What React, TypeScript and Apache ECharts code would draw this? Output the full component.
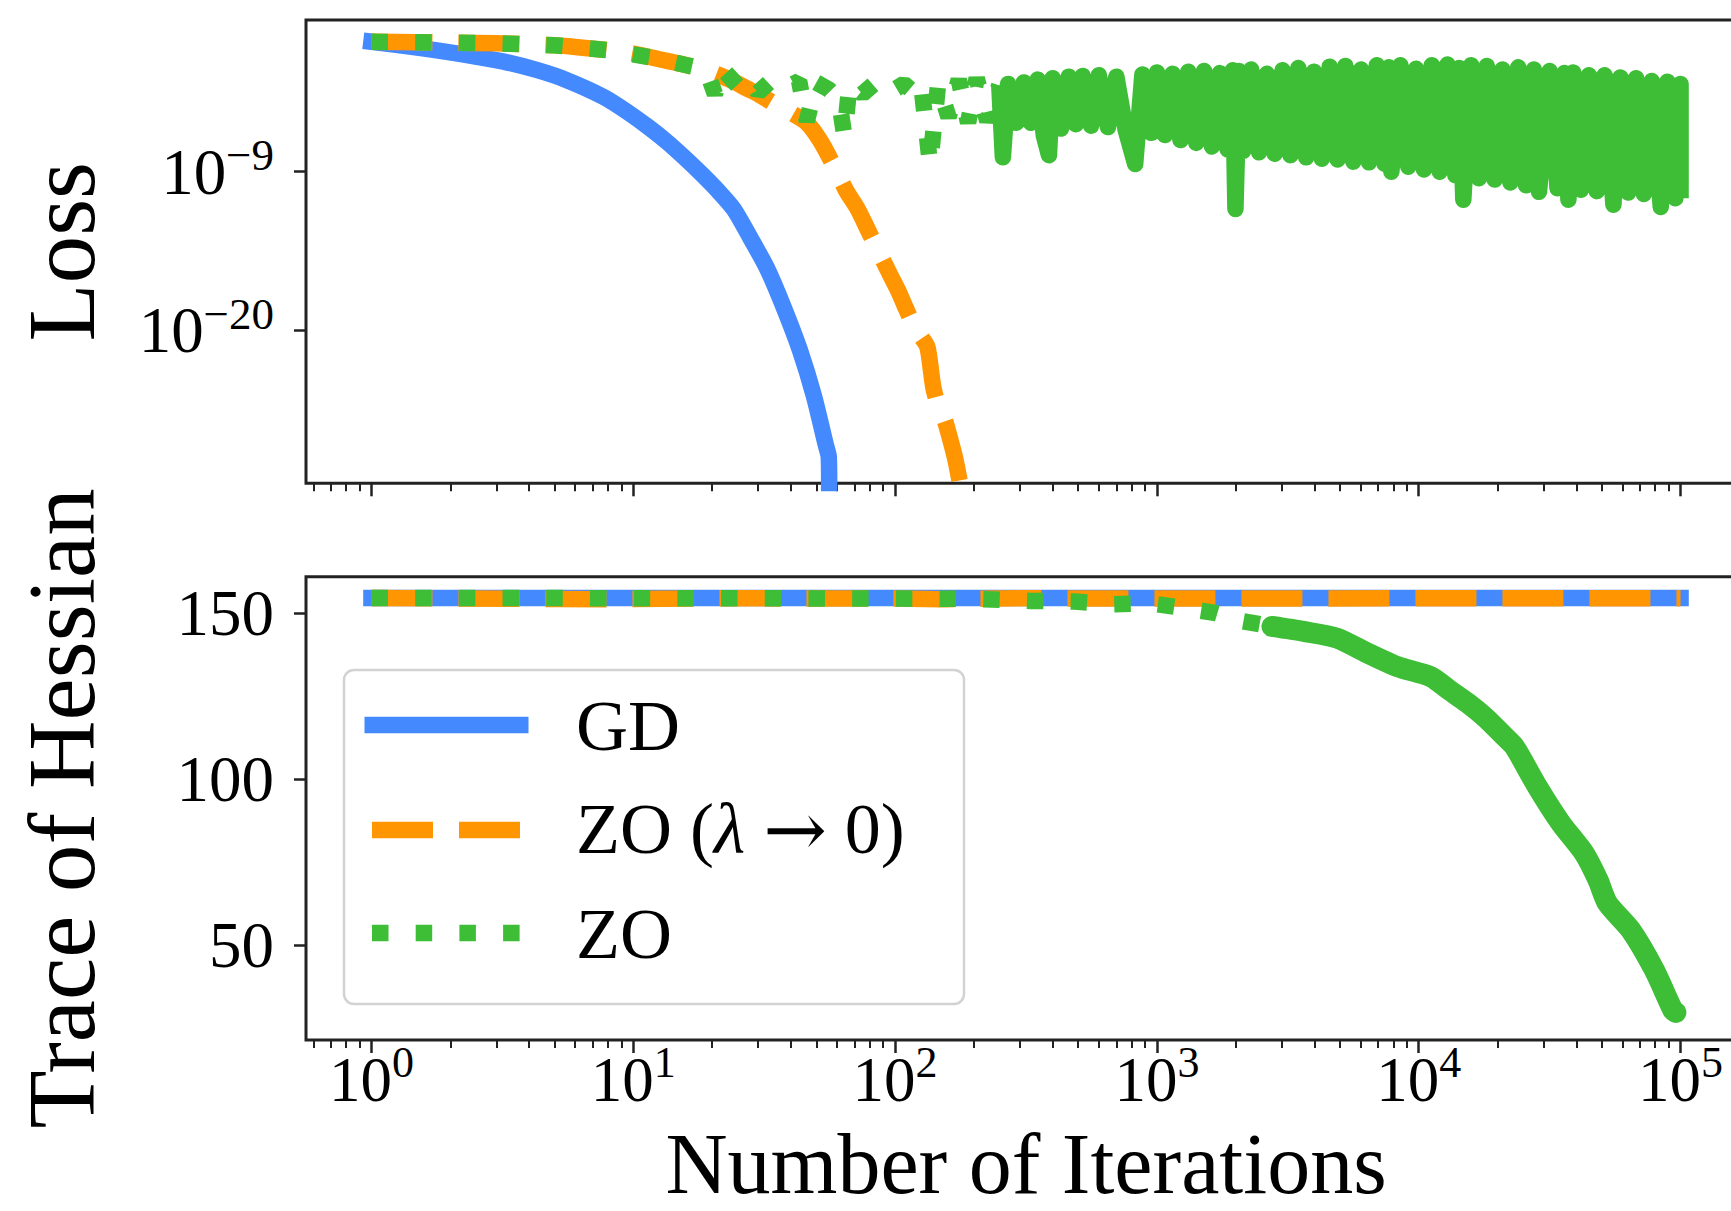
import React, { useEffect, useRef } from "react";
import * as echarts from "echarts";

const FONT = "'Liberation Serif', 'Times New Roman', Times, serif";
const BLUE = "#4589ff";
const ORANGE = "#ff9500";
const GREEN = "#3dbe36";
const AXIS = "#222222";

// ---------- axes ----------
const X_MIN_EXP = -0.25;
const X_MAX_EXP = 5.25;
const LOSS_MIN_EXP = -30.65;
const LOSS_MAX_EXP = 1.54;
const TRACE_MIN = 21.4;
const TRACE_MAX = 161.0;

const xMajorExp = [0, 1, 2, 3, 4, 5];
const xMinorIter = [
  0.6, 0.7, 0.8, 0.9,
  2, 3, 4, 5, 6, 7, 8, 9,
  20, 30, 40, 50, 60, 70, 80, 90,
  200, 300, 400, 500, 600, 700, 800, 900,
  2000, 3000, 4000, 5000, 6000, 7000, 8000, 9000,
  20000, 30000, 40000, 50000, 60000, 70000, 80000, 90000,
];
const lossTickExp = [-20, -9];
const traceTicks = [50, 100, 150];

// ---------- top panel: loss (log10 of loss) ----------
const gdLossIter = [1, 1.4, 1.94, 2.5, 3.2, 4.27, 5.5, 7.71, 9.5, 11.4, 13.5, 15.6, 18.1, 21, 24.2, 28, 32.4, 37.5, 43.3, 49, 54.4, 55.8, 56];
const gdLossExp = [0.03, -0.3, -0.68, -1.0, -1.35, -1.93, -2.6, -3.81, -4.85, -5.89, -6.95, -7.98, -9.1, -10.3, -11.6, -13.6, -15.7, -18.4, -21.4, -24.6, -28.0, -28.8, LOSS_MIN_EXP];

const zoLamLossIter = [1, 1.5, 2, 3, 4, 5, 6, 8, 10, 13, 16, 20, 24, 27, 30, 34, 40, 46, 52, 58, 65, 72, 80, 89, 96, 103, 110, 118, 126, 133, 140, 147, 155, 163, 170, 177];
const zoLamLossExp = [0.03, 0.0, -0.03, -0.08, -0.15, -0.22, -0.33, -0.55, -0.8, -1.24, -1.6, -2.1, -2.7, -3.2, -3.6, -4.2, -4.9, -5.6, -6.9, -8.5, -10.3, -11.6, -13.3, -15.0, -16.2, -17.3, -18.5, -19.7, -20.5, -21.2, -24.0, -25.4, -26.3, -27.7, -29.0, LOSS_MIN_EXP];

// ZO: sparse (dotted) part up to ~250 iterations
const zoLossIter = [1, 2, 3, 5, 8, 12, 16, 19, 20.5, 22, 25, 28, 30, 33, 38, 43, 46, 50, 56, 61, 64, 67, 75, 83, 95, 108, 120, 126, 136, 146, 160, 175, 190, 205, 225, 250];
const zoLossExp = [0.03, -0.03, -0.08, -0.22, -0.55, -1.1, -1.6, -1.9, -3.6, -1.9, -3.0, -2.6, -3.5, -2.8, -3.2, -2.7, -5.5, -2.8, -3.3, -4.0, -6.5, -2.9, -3.6, -2.9, -3.5, -2.9, -3.6, -3.0, -8.5, -2.9, -5.2, -2.6, -5.6, -2.5, -5.5, -3.0];

// ZO: dense noisy part (250 .. 10^5), alternating upper / lower readings of the band
const zoBandIter = [250, 258, 270, 290, 310, 330, 350, 370, 387, 400, 430, 460, 490, 520, 560, 600, 650, 700, 760, 826, 880, 950,
  1000, 1072, 1148, 1230, 1318, 1413, 1514, 1622, 1738, 1862, 1950, 1995, 2060, 2138, 2291, 2455, 2630, 2818, 3020, 3236, 3467, 3715, 3981, 4266, 4571, 4898, 5248, 5623, 6026, 6457, 6918, 7413, 7700, 7860, 8511, 9120, 9772, 10471, 11220, 12023, 12882, 13804, 14300, 14800, 15849, 16982, 18197, 19498, 20893, 22387, 23988, 25704, 27542, 28800, 31623, 33884, 36000, 37300, 38905, 41687, 44668, 47863, 51286, 55400, 58884, 63096, 67608, 72444, 77625, 84000, 89125, 95499, 100000, 100000];
const zoBandExp = [-3.0, -8.0, -2.9, -5.6, -2.8, -5.6, -2.6, -6.5, -7.85, -2.5, -6.0, -2.4, -5.7, -2.35, -5.8, -2.3, -5.9, -2.4, -6.1, -8.47, -2.25, -6.3,
  -2.1, -6.45, -2.2, -6.8, -2.05, -7.0, -2.0, -7.25, -2.15, -7.45,
  -1.95, -11.6, -2.0, -7.55, -1.9, -7.65, -2.2, -7.75, -1.95, -7.85,
  -1.8, -8.0, -2.05, -8.1, -1.7, -8.15, -1.65, -8.3, -1.9, -8.35,
  -1.6, -8.45, -1.75, -9.0, -1.6, -8.65, -1.85, -8.85, -1.6, -9.0,
  -1.55, -9.25, -1.8, -10.95, -1.6, -9.45, -1.65, -9.55, -1.9, -9.75,
  -1.75, -9.95, -1.9, -10.4, -2.0, -10.15, -2.15, -10.95, -2.1, -10.25,
  -2.3, -10.35, -2.3, -11.3, -2.45, -10.45, -2.5, -10.55, -2.7, -11.45,
  -2.75, -10.85, -2.9, -10.85];

// ---------- bottom panel: trace of Hessian ----------
const gdTraceIter = [1, 10, 100, 1000, 10000, 100000];
const gdTraceVal = [154.6, 154.6, 154.6, 154.6, 154.6, 154.6];

const zoLamTraceIter = [1, 5, 8, 20, 100, 150, 300, 1000, 10000, 100000];
const zoLamTraceVal = [154.6, 154.3, 154.2, 154.5, 154.4, 154.2, 154.5, 154.4, 154.5, 154.5];

const zoTraceIter = [1, 3, 10, 30, 100, 200, 330, 485, 680, 935, 1257, 1661, 2130, 2750, 3640];
const zoTraceVal = [154.6, 154.6, 154.5, 154.5, 154.4, 154.3, 153.7, 153.5, 152.7, 153.0, 151.6, 150.1, 147.6, 146.0, 144.5];

const zoTraceDenseIter = [2750, 3640, 4870, 6220, 8300, 11100, 13000, 15400, 18000, 21300, 23200, 28400, 34900, 42900, 48400, 52600, 64600, 79400, 93500, 96000];
const zoTraceDenseVal = [146.0, 144.5, 142.5, 138.4, 133.9, 130.9, 127.0, 122.9, 118.5, 112.8, 109.8, 97.7, 86.7, 77.6, 69.6, 62.6, 54.5, 42.5, 30.4, 29.7];

// ---------- legend ----------
const legendLabels = ["GD", "ZO (λ → 0)", "ZO"];

const pairsLoss = (it: number[], ex: number[]) => it.map((t, i) => [t, Math.pow(10, ex[i])]);
const pairs = (it: number[], v: number[]) => it.map((t, i) => [t, v[i]]);

const LW = 16.5;
const DASH = [61, 26];
const DOT = [16.5, 27.2];

const supRichY = {
  b: { fontSize: 65, fontFamily: FONT, color: "#000", lineHeight: 65, verticalAlign: "middle" },
  s: { fontSize: 45, fontFamily: FONT, color: "#000", lineHeight: 32, height: 32, verticalAlign: "top" },
};
const supRichX = {
  b: { fontSize: 63, fontFamily: FONT, color: "#000", lineHeight: 63, verticalAlign: "middle" },
  s: { fontSize: 44, fontFamily: FONT, color: "#000", lineHeight: 28, height: 28, verticalAlign: "top" },
};

const nameStyle = { fontSize: 95, fontFamily: FONT, color: "#000", lineHeight: 95 };

function logX(gridIndex: number) {
  return {
    type: "log", logBase: 10, gridIndex, position: "bottom",
    min: Math.pow(10, X_MIN_EXP), max: Math.pow(10, X_MAX_EXP), show: false,
    axisLine: { onZero: false },
  };
}
function majorX(gridIndex: number, labels: boolean) {
  const ax: any = {
    type: "value", gridIndex, position: "bottom", min: X_MIN_EXP, max: X_MAX_EXP,
    axisLine: { show: false, onZero: false }, splitLine: { show: false },
    axisTick: { show: true, length: 13, lineStyle: { color: AXIS, width: 2.5 }, customValues: xMajorExp },
    axisLabel: labels
      ? { show: true, customValues: xMajorExp, margin: 8, fontFamily: FONT, color: "#000",
          formatter: (v: number) => `{b|10}{s|${Math.round(v)}}`, rich: supRichX }
      : { show: false },
  };
  if (labels) {
    ax.name = "Number of Iterations";
    ax.nameLocation = "middle";
    ax.nameGap = 94;
    ax.nameMoveOverlap = false;
    ax.nameTextStyle = { fontSize: 86, fontFamily: FONT, color: "#000", lineHeight: 60 };
  }
  return ax;
}
function minorX(gridIndex: number) {
  return {
    type: "value", gridIndex, position: "bottom", min: X_MIN_EXP, max: X_MAX_EXP,
    axisLine: { show: false, onZero: false }, splitLine: { show: false },
    axisTick: { show: true, length: 8, lineStyle: { color: AXIS, width: 2 }, customValues: xMinorIter.map((t) => Math.log10(t)) },
    axisLabel: { show: false },
  };
}

function buildOption(): any {
  const lineBase = { type: "line", showSymbol: false, symbol: "none", silent: true, smooth: false };
  return {
    animation: false,
    backgroundColor: "#ffffff",
    grid: [
      { left: 306, top: 20, width: 1440, height: 463.3, show: true, borderColor: AXIS, borderWidth: 3, backgroundColor: "transparent", containLabel: false, outerBoundsMode: "none" },
      { left: 306, top: 576.7, width: 1440, height: 463.3, show: true, borderColor: AXIS, borderWidth: 3, backgroundColor: "transparent", containLabel: false, outerBoundsMode: "none" },
    ],
    xAxis: [logX(0), majorX(0, false), minorX(0), logX(1), majorX(1, true), minorX(1)],
    yAxis: [
      { type: "log", logBase: 10, gridIndex: 0, position: "left", min: Math.pow(10, LOSS_MIN_EXP), max: Math.pow(10, LOSS_MAX_EXP), show: false, axisLine: { onZero: false } },
      {
        type: "value", gridIndex: 0, position: "left", min: LOSS_MIN_EXP, max: LOSS_MAX_EXP,
        axisLine: { show: false, onZero: false }, splitLine: { show: false },
        axisTick: { show: true, length: 12, lineStyle: { color: AXIS, width: 2.5 }, customValues: lossTickExp },
        axisLabel: { show: true, customValues: lossTickExp, margin: 32, fontFamily: FONT, color: "#000",
          formatter: (v: number) => `{b|10}{s|−${Math.abs(Math.round(v))}}`, rich: supRichY },
        name: "Loss", nameLocation: "middle", nameGap: 197, nameMoveOverlap: false, nameTextStyle: nameStyle,
      },
      {
        type: "value", gridIndex: 1, position: "left", min: TRACE_MIN, max: TRACE_MAX,
        axisLine: { show: false, onZero: false }, splitLine: { show: false },
        axisTick: { show: true, length: 12, lineStyle: { color: AXIS, width: 2.5 }, customValues: traceTicks },
        axisLabel: { show: true, customValues: traceTicks, margin: 32, fontFamily: FONT, fontSize: 65, lineHeight: 65, color: "#000" },
        name: "Trace of Hessian", nameLocation: "middle", nameGap: 197, nameMoveOverlap: false, nameTextStyle: nameStyle,
      },
    ],
    series: [
      { ...lineBase, name: "GD", xAxisIndex: 0, yAxisIndex: 0, data: pairsLoss(gdLossIter, gdLossExp),
        smooth: 0.25,
        lineStyle: { color: BLUE, width: LW, cap: "square", join: "round" } },
      { ...lineBase, name: "ZO (λ → 0)", xAxisIndex: 0, yAxisIndex: 0, data: pairsLoss(zoLamLossIter, zoLamLossExp),
        smooth: 0.25,
        lineStyle: { color: ORANGE, width: LW, type: DASH, cap: "butt" } },
      { ...lineBase, name: "ZO", xAxisIndex: 0, yAxisIndex: 0, data: pairsLoss(zoLossIter, zoLossExp),
        lineStyle: { color: GREEN, width: LW, type: DOT, cap: "butt" } },
      { ...lineBase, name: "ZO", xAxisIndex: 0, yAxisIndex: 0, data: pairsLoss(zoBandIter, zoBandExp),
        lineStyle: { color: GREEN, width: LW, cap: "butt", join: "round" } },

      { ...lineBase, name: "GD", xAxisIndex: 3, yAxisIndex: 2, data: pairs(gdTraceIter, gdTraceVal),
        lineStyle: { color: BLUE, width: LW, cap: "square" } },
      { ...lineBase, name: "ZO (λ → 0)", xAxisIndex: 3, yAxisIndex: 2, data: pairs(zoLamTraceIter, zoLamTraceVal),
        lineStyle: { color: ORANGE, width: LW, type: DASH, cap: "butt" } },
      { ...lineBase, name: "ZO", xAxisIndex: 3, yAxisIndex: 2, data: pairs(zoTraceIter, zoTraceVal),
        lineStyle: { color: GREEN, width: LW, type: DOT, cap: "butt" } },
      { ...lineBase, name: "ZO", xAxisIndex: 3, yAxisIndex: 2, data: pairs(zoTraceDenseIter, zoTraceDenseVal),
        smooth: 0.25,
        lineStyle: { color: GREEN, width: 21, cap: "round", join: "round" } },
    ],
    graphic: [
      { type: "rect", z: 100, shape: { x: 344, y: 670, width: 620, height: 334, r: 10 },
        style: { fill: "rgba(255,255,255,0.8)", stroke: "#d2d2d2", lineWidth: 2.5 } },
      { type: "line", z: 101, shape: { x1: 364.5, y1: 725, x2: 528.5, y2: 725 },
        style: { stroke: BLUE, lineWidth: LW, lineCap: "butt" } },
      { type: "line", z: 101, shape: { x1: 372, y1: 830, x2: 520, y2: 830 },
        style: { stroke: ORANGE, lineWidth: LW, lineDash: DASH, lineCap: "butt" } },
      { type: "line", z: 101, shape: { x1: 372, y1: 933, x2: 521, y2: 933 },
        style: { stroke: GREEN, lineWidth: LW, lineDash: DOT, lineCap: "butt" } },
      { type: "text", z: 101, x: 576, y: 726,
        style: { text: legendLabels[0], fontSize: 72, fontFamily: FONT, fill: "#000", align: "left", verticalAlign: "middle" } },
      { type: "text", z: 101, x: 576, y: 829,
        style: {
          text: "{n|ZO (}{i|λ}{n| }{a|→}{n| 0)}", fontSize: 72, fontFamily: FONT, fill: "#000", align: "left", verticalAlign: "middle",
          rich: {
            n: { fontSize: 72, fontFamily: FONT, fill: "#000" },
            i: { fontSize: 72, fontFamily: FONT, fontStyle: "italic", fill: "#000" },
            a: { fontSize: 76, fontFamily: "'DejaVu Serif', serif", fill: "#000" },
          },
        } },
      { type: "text", z: 101, x: 576, y: 934,
        style: { text: legendLabels[2], fontSize: 72, fontFamily: FONT, fill: "#000", align: "left", verticalAlign: "middle" } },
    ],
  };
}

export default function App() {
  const ref = useRef<HTMLDivElement>(null);
  useEffect(() => {
    if (!ref.current) return;
    const chart = echarts.init(ref.current, null, { renderer: "svg" });
    chart.setOption(buildOption());
    return () => chart.dispose();
  }, []);
  return (
    <div
      ref={ref}
      style={{ position: "fixed", left: 0, top: 0, width: 1731, height: 1211, background: "#ffffff" }}
    />
  );
}
